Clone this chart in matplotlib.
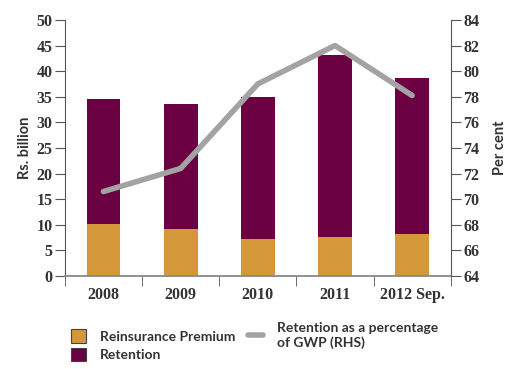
import numpy as np
import matplotlib.pyplot as plt
from matplotlib.patches import Patch
from matplotlib.lines import Line2D

years = ["2008", "2009", "2010", "2011", "2012 Sep."]
reinsurance = [10.2, 9.2, 7.2, 7.6, 8.2]
totals = [34.6, 33.6, 35.0, 43.2, 38.7]
retention = [t - r for t, r in zip(totals, reinsurance)]
retention_pct = [70.6, 72.4, 79.0, 82.0, 78.1]

ORANGE = "#d4973a"
PURPLE = "#6b0042"
GREY = "#a3a3a3"
AX_COL = "#555555"
TXT = "#333333"
SANS = "Lato"

fig = plt.figure(figsize=(5.07, 3.69), dpi=100)
ax = fig.add_axes([0.128, 0.252, 0.761, 0.694])
x = np.arange(len(years))

ax.bar(x, reinsurance, width=0.44, color=ORANGE, zorder=2)
ax.bar(x, retention, width=0.44, bottom=reinsurance, color=PURPLE, zorder=2)

ax.set_xlim(-0.5, len(years) - 0.5)
ax.set_ylim(0, 50)
ax.set_yticks(range(0, 51, 5))
ax.set_xticks(x)
ax.set_xticklabels(years)
ax.set_xticks(np.arange(-0.5, len(years)), minor=True)
ax.tick_params(axis="x", which="major", length=0, pad=8)
ax.tick_params(axis="x", which="minor", length=7, direction="out", color=AX_COL)
ax.tick_params(axis="y", length=7, color=AX_COL, pad=2)
for lbl in ax.get_xticklabels() + ax.get_yticklabels():
    lbl.set_fontfamily("Liberation Serif")
    lbl.set_fontweight("bold")
    lbl.set_fontsize(11.5)
    lbl.set_color(TXT)
for s in ["top", "right"]:
    ax.spines[s].set_visible(False)
ax.spines["left"].set_color(AX_COL)
ax.spines["bottom"].set_color("#888888")
ax.spines["bottom"].set_linewidth(1.3)
ax.set_ylabel("Rs. billion", fontsize=10.5, fontweight="bold", color=TXT,
              fontfamily=SANS, labelpad=3)

ax2 = ax.twinx()
ax2.plot(x, retention_pct, color=GREY, linewidth=4, zorder=3,
         solid_capstyle="round")
ax2.set_ylim(64, 84)
ax2.set_yticks(range(64, 85, 2))
ax2.tick_params(axis="y", length=7, color=AX_COL, pad=2)
for lbl in ax2.get_yticklabels():
    lbl.set_fontfamily("Liberation Serif")
    lbl.set_fontweight("bold")
    lbl.set_fontsize(11.5)
    lbl.set_color(TXT)
for s in ["top", "left", "bottom"]:
    ax2.spines[s].set_visible(False)
ax2.spines["right"].set_color(AX_COL)
ax2.set_ylabel("Per cent", fontsize=10.5, fontweight="bold", color=TXT,
               fontfamily=SANS, labelpad=10)

handles = [
    Patch(facecolor=ORANGE, edgecolor="#444444", linewidth=0.8),
    Patch(facecolor=PURPLE, edgecolor="#444444", linewidth=0.8),
    Line2D([0], [0], color=GREY, linewidth=4, solid_capstyle="round"),
]
labels = ["Reinsurance Premium", "Retention",
          "Retention as a percentage\nof GWP (RHS)"]
fig.legend(handles, labels, ncol=2, loc="upper left",
           bbox_to_anchor=(0.115, 0.16), frameon=False,
           prop={"family": SANS, "weight": "bold", "size": 10},
           labelcolor=TXT, handlelength=1.1, handleheight=1.1,
           columnspacing=0.9, handletextpad=1.0, labelspacing=0.35)

fig.savefig("out.png", dpi=100, facecolor="white")
